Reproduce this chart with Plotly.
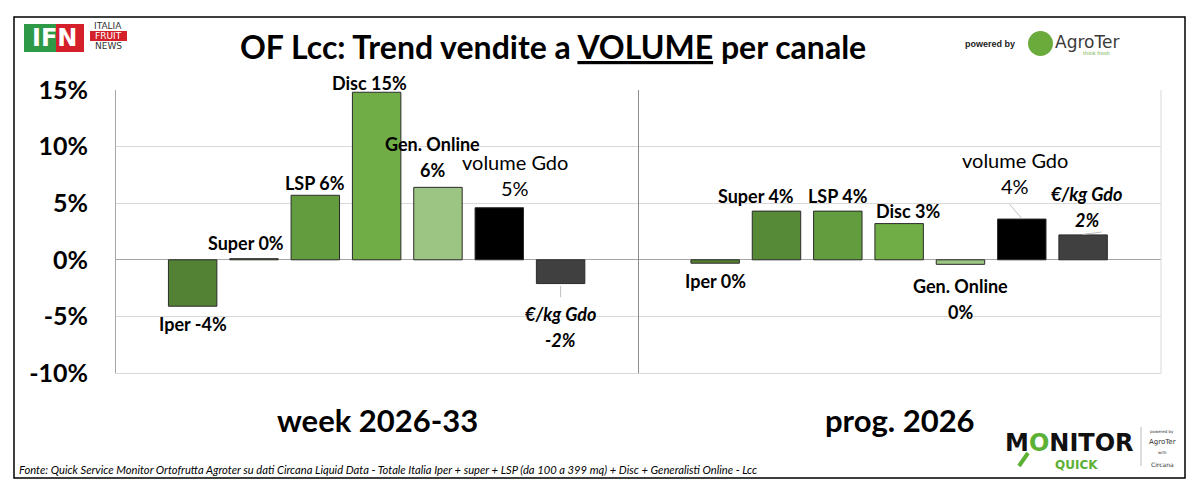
import plotly.graph_objs as go

# canali (same order in both panels)
channels = ['Iper', 'Super', 'LSP', 'Disc', 'Gen. Online', 'volume Gdo', '€/kg Gdo']
panels = ['week 2026-33', 'prog. 2026']

# trend %
week_values = [-4.1, 0.1, 5.7, 14.8, 6.4, 4.6, -2.1]
prog_values = [-0.3, 4.3, 4.3, 3.2, -0.4, 3.6, 2.2]

week_labels = ['Iper -4%', 'Super 0%', 'LSP 6%', 'Disc 15%', 'Gen. Online<br>6%',
               'volume Gdo<br>5%', '<i>€/kg Gdo</i><br><i>-2%</i>']
prog_labels = ['Iper 0%', 'Super 4%', 'LSP 4%', 'Disc 3%', 'Gen. Online<br>0%',
               'volume Gdo<br>4%', '<i>€/kg Gdo</i><br><i>2%</i>']

y_ticks = [-10, -5, 0, 5, 10, 15]
y_ticktext = ['-10%', '-5%', '0%', '5%', '10%', '15%']

colors = ['#548235', '#578A36', '#639C3E', '#70AD47', '#9CC483', '#000000', '#404040']

# label placement (x offset from bar, y in data units)
week_lab_dx = [0, -0.13, 0, -0.11, -0.09, 0.25, 0]
week_lab_y = [-5.7, 1.5, 6.8, 15.6, 9.1, 7.45, -5.9]
prog_lab_dx = [0, -0.33, 0, 0.16, 0, -0.11, 0.06]
prog_lab_y = [-1.85, 5.6, 5.65, 4.3, -3.45, 7.7, 4.7]

FONT = 'Lato'
Y_MIN, Y_MAX = -10, 15
LINE_GAP = 26  # px between the two lines of a label

# the page adds an 8px body margin, so everything is drawn 8px up/left
OFF = 8
L, R, T, B = 116 - OFF, 1161 - OFF, 90 - OFF, 373 - OFF


def px(x):
    return (x - OFF - L) / (R - L)


def py(y):
    return (B - (y - OFF)) / (B - T)


def ydom(v):
    return (v - Y_MIN) / (Y_MAX - Y_MIN)


xpos = list(range(len(channels)))

fig = go.Figure()
fig.add_trace(go.Bar(x=xpos, y=week_values, xaxis='x', yaxis='y', width=0.79,
                     marker=dict(color=colors, line=dict(color='#2b2b2b', width=1)),
                     hoverinfo='y', showlegend=False))
fig.add_trace(go.Bar(x=xpos, y=prog_values, xaxis='x2', yaxis='y', width=0.79,
                     marker=dict(color=colors, line=dict(color='#2b2b2b', width=1)),
                     hoverinfo='y', showlegend=False))

annotations = []
for axis, labels, dxs, ys in [('x', week_labels, week_lab_dx, week_lab_y),
                              ('x2', prog_labels, prog_lab_dx, prog_lab_y)]:
    for i, (txt, dx, yy) in enumerate(zip(labels, dxs, ys)):
        bold = not txt.startswith('volume')
        lines = txt.split('<br>')
        # each line is its own annotation so the line spacing matches
        shift = (len(lines) - 1) * LINE_GAP / 2
        for k, line in enumerate(lines):
            annotations.append(dict(
                x=i + dx, y=ydom(yy), yshift=shift - k * LINE_GAP, xref=axis, yref='y domain',
                text=line, showarrow=False,
                font=dict(family=FONT, size=18 if bold else 20, color='black',
                          weight='bold' if bold else 'normal'),
                xanchor='center', yanchor='middle'))

# panel labels
for axis, name in zip(['x domain', 'x2 domain'], panels):
    annotations.append(dict(x=0.5, y=py(420), xref=axis, yref='paper', text=name,
                            showarrow=False, font=dict(family=FONT, size=31, color='black', weight='bold'),
                            xanchor='center', yanchor='middle'))

# title
annotations.append(dict(x=px(553), y=py(46), xref='paper', yref='paper',
                        text='OF Lcc: Trend vendite a <u>VOLUME</u> per canale', showarrow=False,
                        font=dict(family=FONT, size=32, color='black', weight='bold'),
                        xanchor='center', yanchor='middle'))

# footnote
annotations.append(dict(x=px(17), y=py(469), xref='paper', yref='paper', showarrow=False,
                        text='<i>Fonte: Quick Service Monitor Ortofrutta Agroter su dati Circana Liquid Data - '
                             'Totale Italia Iper + super + LSP (da 100 a 399 mq) + Disc + Generalisti Online - Lcc</i>',
                        font=dict(family=FONT, size=11.2, color='black'), xanchor='left', yanchor='middle'))

# IFN logo texts
annotations.append(dict(x=px(54), y=py(38), xref='paper', yref='paper', text='<b>IFN</b>', showarrow=False,
                        font=dict(family='DejaVu Sans', size=24, color='white'), xanchor='center', yanchor='middle'))
for txt, yy, col in [('ITALIA', 26, '#333333'), ('FRUIT', 36, 'white'), ('NEWS', 46, '#333333')]:
    annotations.append(dict(x=px(108), y=py(yy), xref='paper', yref='paper', text=txt, showarrow=False,
                            font=dict(family='DejaVu Sans', size=9, color=col), xanchor='center', yanchor='middle'))

# AgroTer logo
annotations.append(dict(x=px(990), y=py(44), xref='paper', yref='paper', text='<b>powered by</b>', showarrow=False,
                        font=dict(family='Liberation Sans Narrow, Liberation Sans', size=9, color='#222222'),
                        xanchor='center', yanchor='middle'))
annotations.append(dict(x=px(1087), y=py(42), xref='paper', yref='paper', text='AgroTer', showarrow=False,
                        font=dict(family='DejaVu Sans', size=17, color='#3a3a3a'), xanchor='center', yanchor='middle'))
annotations.append(dict(x=px(1096), y=py(53), xref='paper', yref='paper', text='think fresh', showarrow=False,
                        font=dict(family='DejaVu Sans', size=5, color='#6aab3c'), xanchor='center', yanchor='middle'))

# Monitor Quick logo
annotations.append(dict(x=px(1069), y=py(443), xref='paper', yref='paper',
                        text='<b>M<span style="color:#5cb135">O</span>NITOR</b>', showarrow=False,
                        font=dict(family='DejaVu Sans', size=24, color='#111111'), xanchor='center', yanchor='middle'))
annotations.append(dict(x=px(1076), y=py(465), xref='paper', yref='paper', text='<b>QUICK</b>', showarrow=False,
                        font=dict(family='DejaVu Sans', size=12, color='#5cb135'), xanchor='center', yanchor='middle'))
for txt, yy, sz in [('powered by', 431, 4), ('AgroTer', 442, 7), ('with', 452, 4), ('Circana', 464, 6)]:
    annotations.append(dict(x=px(1162), y=py(yy), xref='paper', yref='paper', text=txt, showarrow=False,
                            font=dict(family='DejaVu Sans', size=sz, color='#333333'), xanchor='center', yanchor='middle'))

shapes = [
    # outer frame
    dict(type='rect', xref='paper', yref='paper', x0=px(14), x1=px(1185), y0=py(478), y1=py(17),
         line=dict(color='black', width=1.5), layer='below'),
    # divider and right edge of plot area
    dict(type='line', xref='paper', yref='paper', x0=0.5, x1=0.5, y0=0, y1=1, line=dict(color='#8c8c8c', width=1)),
    dict(type='line', xref='paper', yref='paper', x0=1, x1=1, y0=0, y1=1, line=dict(color='#d9d9d9', width=1)),
    # IFN logo blocks
    dict(type='rect', xref='paper', yref='paper', x0=px(24), x1=px(56), y0=py(52), y1=py(24),
         fillcolor='#2e9a48', line=dict(width=0)),
    dict(type='rect', xref='paper', yref='paper', x0=px(56), x1=px(84), y0=py(52), y1=py(24),
         fillcolor='#d4202a', line=dict(width=0)),
    dict(type='rect', xref='paper', yref='paper', x0=px(90), x1=px(127), y0=py(41), y1=py(31),
         fillcolor='#d4202a', line=dict(width=0)),
    # AgroTer circle
    dict(type='circle', xref='paper', yref='paper', x0=px(1028), x1=px(1053), y0=py(56), y1=py(31),
         fillcolor='#6aab3c', line=dict(width=0)),
    # Monitor Quick: magnifier handle and separator
    dict(type='line', xref='paper', yref='paper', x0=px(1028), x1=px(1019), y0=py(453), y1=py(466),
         line=dict(color='#5cb135', width=4)),
    dict(type='line', xref='paper', yref='paper', x0=px(1141), x1=px(1141), y0=py(466), y1=py(427),
         line=dict(color='#bbbbbb', width=1)),
    # leader lines
    dict(type='line', xref='x', yref='y', x0=6, x1=6, y0=-2.3, y1=-3.3, line=dict(color='#bfbfbf', width=1)),
    dict(type='line', xref='x2', yref='y', x0=4.8, x1=5.0, y0=4.9, y1=3.65, line=dict(color='#bfbfbf', width=1)),
    dict(type='line', xref='x2', yref='y', x0=6.0, x1=6.3, y0=2.25, y1=2.45, line=dict(color='#bfbfbf', width=1)),
]

axis_x = dict(range=[-1.25, 7.27], showgrid=False, zeroline=False, showticklabels=False, ticks='',
              showline=True, linecolor='#d9d9d9', linewidth=1, fixedrange=True)

fig.update_layout(
    width=1200, height=493,
    margin=dict(l=L, r=1200 - R, t=T, b=493 - B),
    paper_bgcolor='white', plot_bgcolor='white',
    xaxis=dict(axis_x, domain=[0, 0.5], anchor='y'),
    xaxis2=dict(axis_x, domain=[0.5, 1], anchor='y'),
    yaxis=dict(range=[Y_MIN, Y_MAX], tickvals=y_ticks, ticktext=y_ticktext, showgrid=True,
               gridcolor='#d9d9d9', gridwidth=1, zeroline=True, zerolinecolor='#a6a6a6', zerolinewidth=1,
               showline=True, linecolor='#a6a6a6', linewidth=1, ticks='', ticklabelstandoff=22,
               tickfont=dict(family=FONT, size=25, color='black', weight='bold'), fixedrange=True),
    bargap=0.2,
    annotations=annotations,
    shapes=shapes,
)

fig.write_html('out.html')
